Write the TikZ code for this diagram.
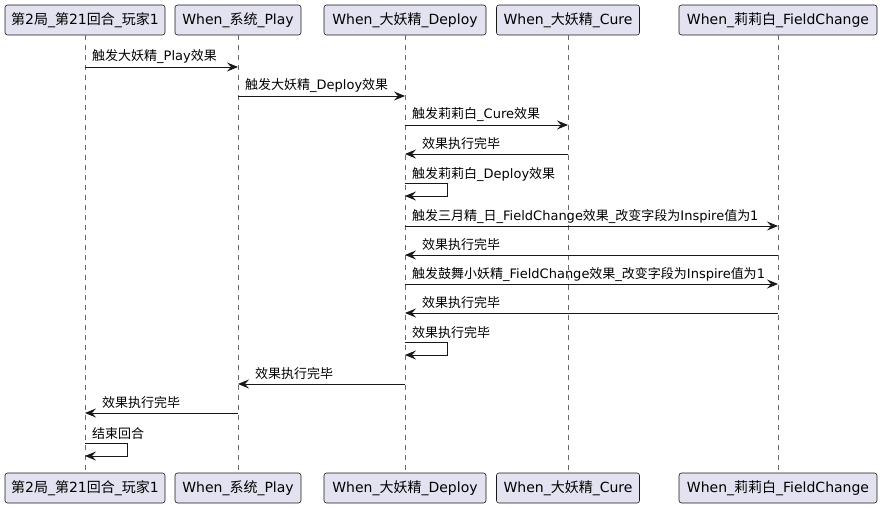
\documentclass[tikz,border=0pt]{standalone}
\usepackage{fontspec}
\setmainfont{DejaVu Sans}
\newfontfamily\cjk{Noto Sans CJK SC}
\usepackage{tikz}
\usetikzlibrary{arrows.meta}

\definecolor{partfill}{HTML}{E2E2F0}
\definecolor{ink}{HTML}{181818}

\newcommand{\zh}[1]{{\cjk #1}}

\tikzset{
	part/.style={draw=ink, fill=partfill, rounded corners=2.5pt, line width=0.6pt, minimum height=30pt, inner sep=0pt, font=\fontsize{14}{16}\selectfont},
	life/.style={draw=ink!65, line width=0.5pt, dash pattern=on 5pt off 5pt},
	msg/.style={draw=ink, line width=0.9pt, -{Stealth[length=11pt,width=9pt,inset=4pt]}},
	lbl/.style={anchor=base west, inner sep=0pt, font=\fontsize{13}{15}\selectfont}
}

\begin{document}
\begin{tikzpicture}[x=1pt,y=-1pt]

		\useasboundingbox (0,0) rectangle (883,508);

		% participants, top and bottom
		\node[part, minimum width=160pt] (a1) at (85,20) {\zh{第}2\zh{局}\_\zh{第}21\zh{回合}\_\zh{玩家}1};
		\node[part, minimum width=126pt] (b1) at (238,20) {When\_\zh{系统}\_Play};
		\node[part, minimum width=162pt] (c1) at (405,20) {When\_\zh{大妖精}\_Deploy};
		\node[part, minimum width=143pt] (d1) at (568,20) {When\_\zh{大妖精}\_Cure};
		\node[part, minimum width=198pt] (e1) at (778,20) {When\_\zh{莉莉白}\_FieldChange};

		\node[part, minimum width=160pt] (a2) at (85,488) {\zh{第}2\zh{局}\_\zh{第}21\zh{回合}\_\zh{玩家}1};
		\node[part, minimum width=126pt] (b2) at (238,488) {When\_\zh{系统}\_Play};
		\node[part, minimum width=162pt] (c2) at (405,488) {When\_\zh{大妖精}\_Deploy};
		\node[part, minimum width=143pt] (d2) at (568,488) {When\_\zh{大妖精}\_Cure};
		\node[part, minimum width=198pt] (e2) at (778,488) {When\_\zh{莉莉白}\_FieldChange};

		\foreach \p in {a,b,c,d,e}
			\path[life] (\p1) -- (\p2);

		% messages
		\path[msg] (a1.south |- 0,67) -- (b1.south |- 0,67);
		\node[lbl] (t1) at (92,61) {\zh{触发大妖精}\_Play\zh{效果}};

		\path[msg] (b1.south |- 0,96) -- (c1.south |- 0,96);
		\node[lbl] (t2) at (245,90) {\zh{触发大妖精}\_Deploy\zh{效果}};

		\path[msg] (c1.south |- 0,125) -- (d1.south |- 0,125);
		\node[lbl] (t3) at (412,119) {\zh{触发莉莉白}\_Cure\zh{效果}};

		\path[msg] (d1.south |- 0,154) -- (c1.south |- 0,154);
		\node[lbl] (t4) at (422,148) {\zh{效果执行完毕}};

		\path[msg] (c1.south |- 0,183) -| (447,196) -- (c1.south |- 0,196);
		\node[lbl] (t5) at (412,178) {\zh{触发莉莉白}\_Deploy\zh{效果}};

		\path[msg] (c1.south |- 0,226) -- (e1.south |- 0,226);
		\node[lbl] (t6) at (412,220) {\zh{触发三月精}\_\zh{日}\_FieldChange\zh{效果}\_\zh{改变字段为}Inspire\zh{值为}1};

		\path[msg] (e1.south |- 0,255) -- (c1.south |- 0,255);
		\node[lbl] (t7) at (422,249) {\zh{效果执行完毕}};

		\path[msg] (c1.south |- 0,284) -- (e1.south |- 0,284);
		\node[lbl] (t8) at (412,278) {\zh{触发鼓舞小妖精}\_FieldChange\zh{效果}\_\zh{改变字段为}Inspire\zh{值为}1};

		\path[msg] (e1.south |- 0,313) -- (c1.south |- 0,313);
		\node[lbl] (t9) at (422,307) {\zh{效果执行完毕}};

		\path[msg] (c1.south |- 0,342) -| (447,355) -- (c1.south |- 0,355);
		\node[lbl] (t10) at (412,337) {\zh{效果执行完毕}};

		\path[msg] (c1.south |- 0,384) -- (b1.south |- 0,384);
		\node[lbl] (t11) at (255,378) {\zh{效果执行完毕}};

		\path[msg] (b1.south |- 0,413) -- (a1.south |- 0,413);
		\node[lbl] (t12) at (102,407) {\zh{效果执行完毕}};

		\path[msg] (a1.south |- 0,443) -| (127,456) -- (a1.south |- 0,456);
		\node[lbl] (t13) at (92,438) {\zh{结束回合}};

	\end{tikzpicture}
\end{document}
